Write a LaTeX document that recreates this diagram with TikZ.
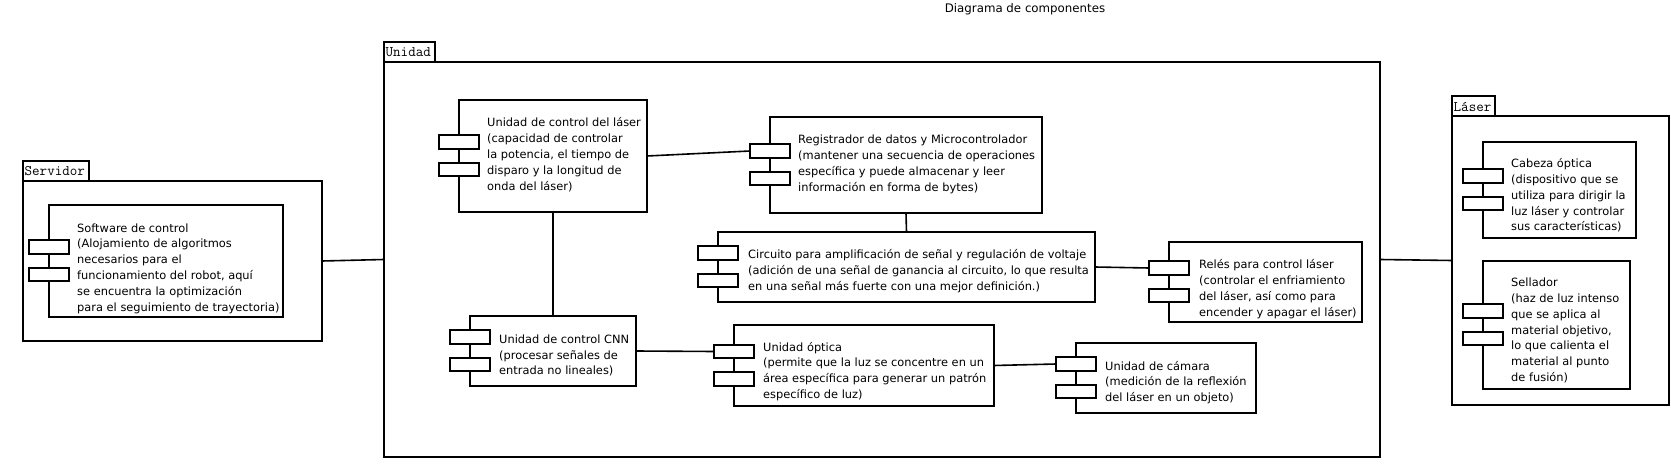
\documentclass[tikz,border=0pt]{standalone}
\usepackage{fontspec}
\setmainfont{DejaVu Sans}
\tikzset{
  box/.style={draw, line width=1.6pt, inner sep=0pt, outer sep=0pt, fill=white},
  portbox/.style={draw, line width=1.6pt, fill=white, inner sep=0pt, outer sep=0pt, minimum width=40pt, minimum height=13.5pt},
  txt/.style={inner sep=0pt, align=left, anchor=west, font=\fontsize{11.4}{15.8}\selectfont},
  tabtxt/.style={inner sep=0pt, anchor=west, font=\ttfamily\fontsize{14.6}{15}\selectfont},
  wire/.style={line width=1.6pt},
}
% #1 name, #2 left, #3 top, #4 right, #5 bottom, #6 tab right, #7 label
\newcommand{\mkpkg}[7]{%
  \node[box, minimum width={#4-#2}, minimum height={#5-#3}] (#1) at ({(#2+#4)/2},{(#3+#5)/2}) {};
  \node[box, minimum width={#6-#2}, minimum height=20] (#1-tab) at ({(#2+#6)/2},{#3-10}) {};
  \node[tabtxt] (#1-lbl) at ({#2+1.5},{#3-9.5}) {#7};
}
% #1 name, #2 left, #3 top, #4 right, #5 bottom, #6 text x, #7 text centre y, #8 text
\newcommand{\mkcomp}[8]{%
  \node[box, minimum width={#4-#2}, minimum height={#5-#3}] (#1) at ({(#2+#4)/2},{(#3+#5)/2}) {};
  \node[portbox] (#1-p1) at (#2,{(#3+#5)/2-14}) {};
  \node[portbox] (#1-p2) at (#2,{(#3+#5)/2+13.5}) {};
  \node[txt] (#1-t) at (#6,#7) {#8};
}
\begin{document}
\begin{tikzpicture}[x=1pt,y=-1pt]
\useasboundingbox (0,0) rectangle (1671,476);
\node[font=\fontsize{11.8}{14}\selectfont, inner sep=0pt] (title) at (1025,9.5) {Diagrama de componentes};

\mkpkg{srv}{23}{181}{322}{341}{89}{Servidor}
\mkcomp{sw}{49}{205}{283}{317}{77}{268.5}{Software de control\\(Alojamiento de algoritmos\\necesarios para el\\funcionamiento del robot, aquí\\se encuentra la optimización\\para el seguimiento de trayectoria)}

\mkpkg{uni}{384}{62}{1380}{457}{435}{Unidad}
\mkcomp{lc}{459}{100}{647}{212}{487}{154.6}{Unidad de control del láser\\(capacidad de controlar\\la potencia, el tiempo de\\disparo y la longitud de\\onda del láser)}
\mkcomp{reg}{770}{117}{1042}{213}{798}{164.5}{Registrador de datos y Microcontrolador\\(mantener una secuencia de operaciones\\específica y puede almacenar y leer\\información en forma de bytes)}
\mkcomp{circ}{718}{232}{1095}{302}{748}{271}{Circuito para amplificación de señal y regulación de voltaje\\(adición de una señal de ganancia al circuito, lo que resulta\\en una señal más fuerte con una mejor definición.)}
\mkcomp{rel}{1169}{242}{1362}{322}{1199}{289}{Relés para control láser\\(controlar el enfriamiento\\del láser, así como para\\encender y apagar el láser)}
\mkcomp{cnn}{470}{316}{636}{386}{499}{355.5}{Unidad de control CNN\\(procesar señales de\\entrada no lineales)}
\mkcomp{opt}{734}{325}{994}{406}{763}{371.4}{Unidad óptica\\(permite que la luz se concentre en un\\área específica para generar un patrón\\específico de luz)}
\mkcomp{cam}{1076}{343}{1256}{413}{1105}{382.6}{Unidad de cámara\\(medición de la reflexión\\del láser en un objeto)}

\mkpkg{las}{1452}{116}{1669}{405}{1495}{Láser}
\mkcomp{cab}{1483}{142}{1636}{238}{1511}{195.5}{Cabeza óptica\\(dispositivo que se\\utiliza para dirigir la\\luz láser y controlar\\sus características)}
\mkcomp{sel}{1483}{261}{1630}{389}{1511}{330.5}{Sellador\\(haz de luz intenso\\que se aplica al\\material objetivo,\\lo que calienta el\\material al punto\\de fusión)}

\draw[wire] (srv.east) -- (uni.west);
\draw[wire] (uni.east) -- (las.west);
\draw[wire] (lc.east) -- (reg-p1.west);
\draw[wire] (lc.south) -- (cnn.north);
\draw[wire] (reg.south) -- (circ.north);
\draw[wire] (circ.east) -- (rel-p1.west);
\draw[wire] (cnn.east) -- (opt-p1.west);
\draw[wire] (opt.east) -- (cam-p1.west);
\end{tikzpicture}
\end{document}
